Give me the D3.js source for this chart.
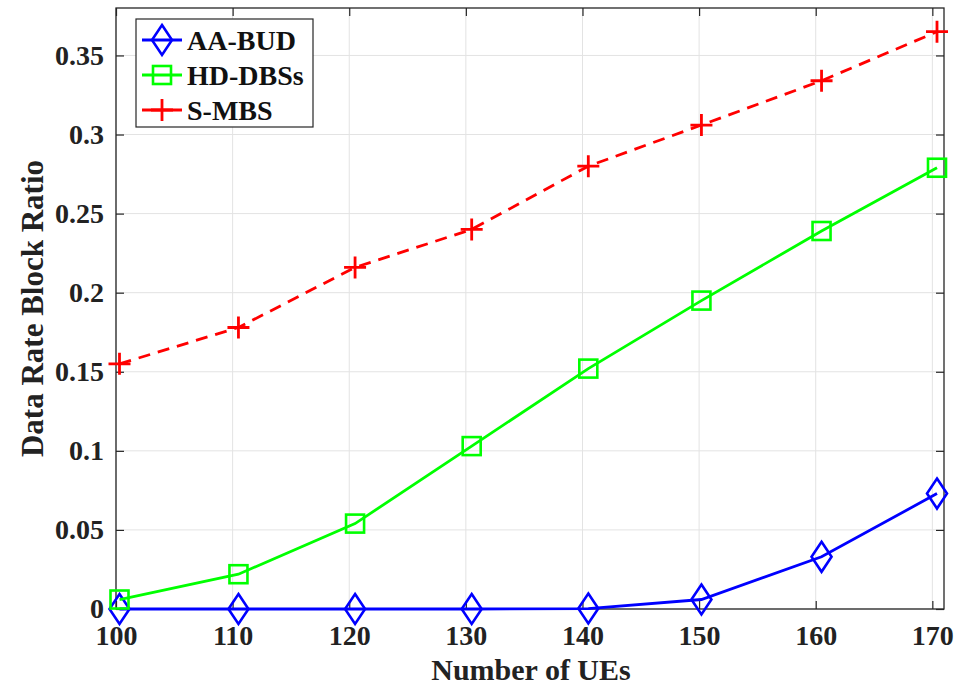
<!DOCTYPE html>
<html><head><meta charset="utf-8">
<script src="https://cdn.jsdelivr.net/npm/d3@7"></script>
<style>body{margin:0;background:#fff}svg{display:block}</style>
</head><body>
<svg id="c" width="958" height="688"></svg>
<script>
const seriesNames = ["AA-BUD", "HD-DBSs", "S-MBS"];
const xValues = [100.3, 110.5, 120.5, 130.5, 140.5, 150.2, 160.5, 170.4];
const aaBud  = [0, 0, 0, 0, 0.0003, 0.006, 0.033, 0.073];
const hdDbss = [0.006, 0.022, 0.054, 0.103, 0.152, 0.195, 0.239, 0.279];
const sMbs   = [0.155, 0.178, 0.216, 0.240, 0.280, 0.306, 0.334, 0.365];
const xTicks = [100, 110, 120, 130, 140, 150, 160, 170];
const yTicks = [0, 0.05, 0.1, 0.15, 0.2, 0.25, 0.3, 0.35];
const yTickLabels = ["0", "0.05", "0.1", "0.15", "0.2", "0.25", "0.3", "0.35"];
const xTitle = "Number of UEs";
const yTitle = "Data Rate Block Ratio";

const svg = d3.select("#c");
const L = 116, R = 944, T = 8, B = 609;
const x = d3.scaleLinear().domain([100, 171]).range([L, R]);
const y = d3.scaleLinear().domain([0, 0.38]).range([B, T]);
const font = "'Liberation Serif', 'Times New Roman', serif";
const axisColor = "#262626";

// grid
const g = svg.append("g");
g.selectAll(".gx").data(xTicks).join("line")
  .attr("x1", d => x(d)).attr("x2", d => x(d)).attr("y1", T).attr("y2", B)
  .attr("stroke", "#e3e3e3").attr("stroke-width", 1);
g.selectAll(".gy").data(yTicks).join("line")
  .attr("y1", d => y(d)).attr("y2", d => y(d)).attr("x1", L).attr("x2", R)
  .attr("stroke", "#e3e3e3").attr("stroke-width", 1);

// axes using d3 axis with inward ticks
const xAxisB = d3.axisBottom(x).tickValues(xTicks).tickSize(-8).tickPadding(16).tickFormat(d3.format("d"));
const xAxisT = d3.axisTop(x).tickValues(xTicks).tickSize(-8).tickFormat("");
const yAxisL = d3.axisLeft(y).tickValues(yTicks).tickSize(-8).tickPadding(12).tickFormat((d, i) => yTickLabels[i]);
const yAxisR = d3.axisRight(y).tickValues(yTicks).tickSize(-8).tickFormat("");

function styleAxis(sel) {
  sel.select(".domain").remove();
  sel.selectAll("line").attr("stroke", axisColor).attr("stroke-width", 1.2);
  sel.selectAll("text").attr("fill", "#222").style("font-family", font)
    .style("font-weight", "bold").style("font-size", "28px");
}
svg.append("g").attr("transform", `translate(0,${B})`).call(xAxisB).call(styleAxis)
  .selectAll("text").attr("dy", "0.71em");
svg.append("g").attr("transform", `translate(0,${T})`).call(xAxisT).call(styleAxis);
svg.append("g").attr("transform", `translate(${L},0)`).call(yAxisL).call(styleAxis);
svg.append("g").attr("transform", `translate(${R},0)`).call(yAxisR).call(styleAxis);

svg.append("rect").attr("x", L).attr("y", T).attr("width", R - L).attr("height", B - T)
  .attr("fill", "none").attr("stroke", axisColor).attr("stroke-width", 1.3);

// series
const series = [
  {name: seriesNames[0], vals: aaBud, color: "#0000ff", marker: "diamond", dash: null},
  {name: seriesNames[1], vals: hdDbss, color: "#00ff00", marker: "square", dash: null},
  {name: seriesNames[2], vals: sMbs, color: "#ff0000", marker: "plus", dash: "12,8"}
];
const line = d3.line().x(d => x(d[0])).y(d => y(d[1]));

function drawMarker(sel, type, color) {
  if (type === "diamond") {
    sel.append("path").attr("d", "M0,-15L10,0L0,15L-10,0Z")
      .attr("fill", "none").attr("stroke", color).attr("stroke-width", 2.6);
  } else if (type === "square") {
    sel.append("rect").attr("x", -9).attr("y", -9).attr("width", 18).attr("height", 18)
      .attr("fill", "none").attr("stroke", color).attr("stroke-width", 2.6);
  } else {
    sel.append("path").attr("d", "M-11,0H11M0,-11V11")
      .attr("fill", "none").attr("stroke", color).attr("stroke-width", 2.8);
  }
}

series.forEach(s => {
  const pts = xValues.map((xv, i) => [xv, s.vals[i]]);
  svg.append("path").datum(pts).attr("d", line).attr("fill", "none")
    .attr("stroke", s.color).attr("stroke-width", 2.8)
    .attr("stroke-dasharray", s.dash);
  svg.selectAll(null).data(pts).join("g")
    .attr("transform", d => `translate(${x(d[0])},${y(d[1])})`)
    .each(function() { drawMarker(d3.select(this), s.marker, s.color); });
});

// legend
const lg = svg.append("g");
lg.append("rect").attr("x", 136).attr("y", 19).attr("width", 177).attr("height", 108)
  .attr("fill", "#fff").attr("stroke", axisColor).attr("stroke-width", 1.2);
series.forEach((s, i) => {
  const cy = 40 + i * 35;
  lg.append("line").attr("x1", 142).attr("x2", 182).attr("y1", cy).attr("y2", cy)
    .attr("stroke", s.color).attr("stroke-width", 2.8);
  const m = lg.append("g").attr("transform", `translate(162,${cy})`);
  drawMarker(m, s.marker, s.color);
  lg.append("text").attr("x", 187).attr("y", cy).attr("dy", "0.35em")
    .style("font-family", font).style("font-weight", "bold").style("font-size", "28px")
    .attr("fill", "#111").text(s.name);
});

// titles
svg.append("text").attr("x", 531).attr("y", 680).attr("text-anchor", "middle")
  .style("font-family", font).style("font-weight", "bold").style("font-size", "30px")
  .attr("fill", "#222").text(xTitle);
svg.append("text").attr("transform", `translate(43,${(T + B) / 2}) rotate(-90)`)
  .attr("text-anchor", "middle")
  .style("font-family", font).style("font-weight", "bold").style("font-size", "31px")
  .attr("fill", "#222").text(yTitle);
</script>
</body></html>
